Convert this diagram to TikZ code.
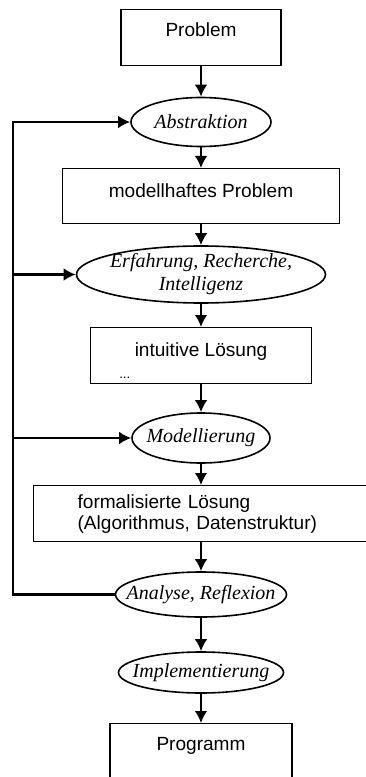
\documentclass[tikz,border=0pt]{standalone}
\usepackage{fontspec}
\setmainfont{Liberation Serif}
\setsansfont{Liberation Sans}
\usetikzlibrary{arrows.meta}
\usetikzlibrary{shapes.geometric}

\tikzset{
  stepbox/.style={draw, line width=0.9pt, anchor=north, inner xsep=0pt, inner ysep=0pt,
    font=\sffamily\fontsize{14.3}{16}\selectfont},
  activity/.style={draw, ellipse, line width=1.2pt, inner sep=-12pt, align=center,
    font=\itshape\fontsize{15}{17.25}\selectfont},
  flow/.style={line width=1.6pt, -{Latex[length=9pt,width=9.5pt]}},
}

\begin{document}
\begin{tikzpicture}[x=0.75pt, y=-0.75pt]
  % Constants
  \pgfmathsetmacro\cx{201}
  \pgfmathsetmacro\rx{13}
  % Boundary
  \useasboundingbox (0,0) rectangle (366,777);
  \clip (0,0) rectangle (366,777);
  % Steps
  \node[stepbox, minimum width=120pt, text height=19.9pt, text depth=22.1pt] (problem) at (\cx,9) {Problem};
  \node[activity, minimum width=105pt, minimum height=36.75pt] (abs) at (\cx,122) {Abstraktion};
  \node[stepbox, minimum width=207.75pt, text height=21.75pt, text depth=19.5pt] (modell) at (\cx,168) {modellhaftes Problem};
  \node[activity, minimum width=186.75pt, minimum height=42.75pt] (erf) at (\cx,274.5) {Erfahrung, Recherche,\\Intelligenz};
  \node[stepbox, minimum width=165.75pt, text height=21.75pt, text depth=20.25pt] (intuitiv) at (\cx,327) {intuitive Lösung};
  \node[anchor=base west, inner sep=0pt, font=\sffamily\fontsize{10}{12}\selectfont] (dots) at (119,378) {...};
  \node[activity, minimum width=103.5pt, minimum height=37.5pt] (mod) at (\cx,438) {Modellierung};
  \node[stepbox, anchor=north west, minimum width=262.5pt, minimum height=42pt, inner xsep=33pt,
    text width=196.5pt, align=left, font=\sffamily\fontsize{14.3}{15.75}\selectfont] (formal) at (33,485)
    {formalisierte Lösung\\(Algorithmus, Datenstruktur)};
  \node[activity, minimum width=128.25pt, minimum height=33.75pt] (ana) at (\cx,594.5) {Analyse, Reflexion};
  \node[activity, minimum width=123.75pt, minimum height=30.75pt] (impl) at (\cx,672.5) {Implementierung};
  \node[stepbox, minimum width=136.5pt, text height=20.25pt, text depth=30pt] (prog) at (\cx,723) {Programm};
  % Main flow
  \draw[flow] (problem.south) -- (abs.north);
  \draw[flow] (abs.south) -- (modell.north);
  \draw[flow] (modell.south) -- (erf.north);
  \draw[flow] (erf.south) -- (intuitiv.north);
  \draw[flow] (intuitiv.south) -- (mod.north);
  \draw[flow] (mod.south) -- (mod.south |- formal.north);
  \draw[flow] (formal.south -| ana.north) -- (ana.north);
  \draw[flow] (ana.south) -- (impl.north);
  \draw[flow] (impl.south) -- (prog.north);
  % Feedback
  \coordinate (rail) at (\rx,0);
  \draw[flow] (ana.west) -| (rail |- abs.west) -- (abs.west);
  \draw[flow] (rail |- erf.west) -- (erf.west);
  \draw[flow] (rail |- mod.west) -- (mod.west);
\end{tikzpicture}
\end{document}
